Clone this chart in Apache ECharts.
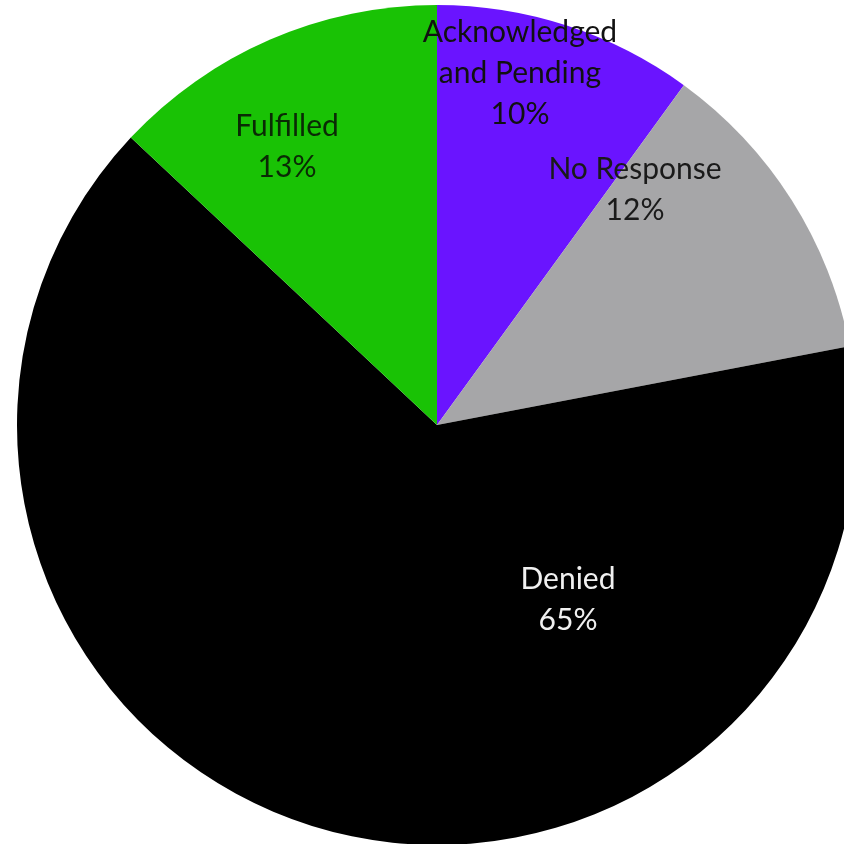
<!DOCTYPE html>
<html>
<head>
<meta charset="utf-8">
<script src="https://cdn.jsdelivr.net/npm/echarts@6/dist/echarts.min.js"></script>
<style>
  html, body { margin: 0; padding: 0; background: #ffffff; }
  #chart { width: 844px; height: 844px; }
</style>
</head>
<body>
<div id="chart"></div>
<script>
// Request outcomes, listed clockwise from 12 o'clock
const categories = ['Acknowledged and Pending', 'No Response', 'Denied', 'Fulfilled'];
const shares = [10, 12, 65, 13];
const sliceColors = ['#6a14ff', '#a6a6a8', '#000000', '#19c205'];
const labelColors = ['#111111', '#1a1a1a', '#f0f0f0', '#0a2a05'];

// Pie geometry (px)
const CX = 437, CY = 425, R = 420;
// Label anchor points, as offsets from the pie centre
const labelOffsets = [[83, -352], [198, -235], [131, 175], [-150, -278]];

const chart = echarts.init(document.getElementById('chart'), null, { renderer: 'canvas' });

const data = categories.map((name, i) => ({
  name: name,
  value: shares[i],
  itemStyle: { color: sliceColors[i] },
  label: { color: labelColors[i] }
}));

chart.setOption({
  animation: false,
  backgroundColor: '#ffffff',
  series: [{
    type: 'pie',
    center: [CX, CY],
    radius: [0, R],
    startAngle: 90,
    clockwise: true,
    avoidLabelOverlap: false,
    itemStyle: { borderWidth: 0 },
    label: {
      show: true,
      position: 'inside',
      fontFamily: 'Lato, "Open Sans", sans-serif',
      fontSize: 30,
      lineHeight: 41,
      align: 'center',
      formatter: p => p.name.replace(' and ', '\nand ') + '\n' + p.percent + '%'
    },
    labelLine: { show: false },
    labelLayout: p => ({
      x: CX + labelOffsets[p.dataIndex][0],
      y: CY + labelOffsets[p.dataIndex][1],
      align: 'center',
      verticalAlign: 'middle'
    }),
    emphasis: { disabled: true },
    data: data
  }]
});
</script>
</body>
</html>
